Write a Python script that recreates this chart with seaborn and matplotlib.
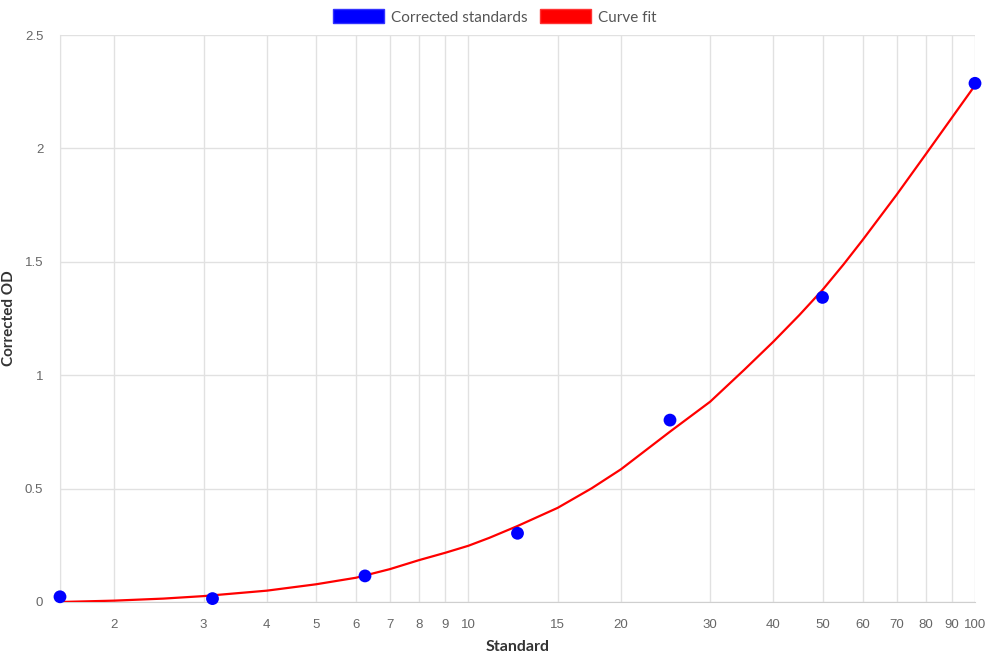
import matplotlib
matplotlib.use("Agg")
import matplotlib.pyplot as plt
from matplotlib.patches import Patch
from matplotlib.ticker import FixedLocator, NullLocator
import seaborn as sns
import pandas as pd

# measured standards
standard = [1.5625, 3.125, 6.25, 12.5, 25, 50, 100]
corrected_od = [0.023, 0.015, 0.115, 0.303, 0.802, 1.343, 2.287]

# curve fit
fit_x = [1.5625, 2, 2.5, 3, 4, 5, 6, 7, 8, 9, 10, 11, 12.5, 15, 17.5, 20, 25, 30, 35, 40,
         45, 50, 55, 60, 70, 80, 90, 100]
fit_y = [0.0, 0.006, 0.015, 0.026, 0.05, 0.078, 0.107, 0.145, 0.185, 0.217, 0.248, 0.283,
         0.335, 0.415, 0.501, 0.585, 0.751, 0.883, 1.023, 1.148, 1.265, 1.376, 1.488,
         1.596, 1.795, 1.975, 2.135, 2.278]

x_ticks = [2, 3, 4, 5, 6, 7, 8, 9, 10, 15, 20, 30, 40, 50, 60, 70, 80, 90, 100]
y_ticks = [0, 0.5, 1, 1.5, 2, 2.5]
y_labels = ["0", "0.5", "1", "1.5", "2", "2.5"]

pts = pd.DataFrame({"Standard": standard, "OD": corrected_od})
fit = pd.DataFrame({"Standard": fit_x, "OD": fit_y})

sns.set_style("white")
plt.rcParams["font.family"] = ["Liberation Sans", "DejaVu Sans"]

grid_col = "#e1e1e1"
fig = plt.figure(figsize=(9.9, 6.6), dpi=100)
ax = fig.add_axes([60 / 990, 1 - 602 / 660, 915 / 990, 567 / 660])

sns.lineplot(data=fit, x="Standard", y="OD", ax=ax, color="#ff0000", linewidth=1.6,
             estimator=None, sort=True, zorder=3)
sns.scatterplot(data=pts, x="Standard", y="OD", ax=ax, color="#0000ff", s=85,
                edgecolor="none", zorder=4, clip_on=False)

ax.set_xscale("log")
ax.set_xlim(1.5625, 100)
ax.set_ylim(0, 2.5)
ax.xaxis.set_major_locator(FixedLocator(x_ticks))
ax.xaxis.set_minor_locator(NullLocator())
ax.set_xticklabels([str(t) for t in x_ticks])
ax.set_yticks(y_ticks)
ax.set_yticklabels(y_labels)

# chart.js-ish grid: vertical lines at every tick plus the left edge
ax.grid(True, color=grid_col, linewidth=1)
ax.axvline(1.5625, color=grid_col, linewidth=1, zorder=0)
for side in ["top", "right"]:
    ax.spines[side].set_visible(False)
ax.spines["left"].set_color(grid_col)
ax.spines["bottom"].set_color("#cfcfcf")
ax.tick_params(axis="both", length=8, width=1, color=grid_col, labelcolor="#666666",
               labelsize=9.5, pad=4)

ax.set_xlabel("Standard", fontsize=11.5, fontweight="bold", color="#333333",
              family=["Lato", "DejaVu Sans"], labelpad=7)
ax.set_ylabel("Corrected OD", fontsize=11, fontweight="bold", color="#333333",
              family=["Lato", "DejaVu Sans"], labelpad=6)

handles = [Patch(facecolor="#0000ff", edgecolor="#3333ff", label="Corrected standards"),
           Patch(facecolor="#ff0000", edgecolor="#ff3333", label="Curve fit")]
fig.legend(handles=handles, loc="center", bbox_to_anchor=(495 / 990, 1 - 17 / 660), ncol=2,
           frameon=False, handlelength=3.3, handleheight=1.0, handletextpad=0.5,
           columnspacing=0.8, prop={"family": ["Lato", "DejaVu Sans"], "size": 11},
           labelcolor="#555555")

fig.savefig("out.png", dpi=100)
